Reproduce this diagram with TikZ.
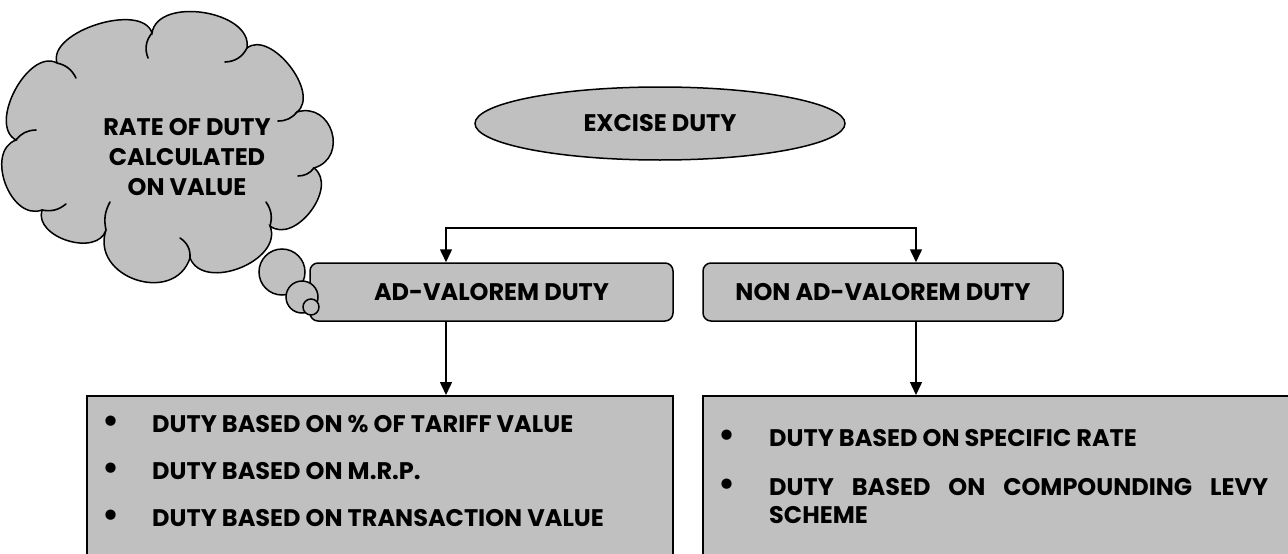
\documentclass[tikz,border=0pt]{standalone}
\usepackage{fontspec}
\setmainfont{Poppins}
\usetikzlibrary{shapes.geometric,arrows.meta,calc}
\definecolor{fillgray}{RGB}{192,192,192}
\begin{document}
\begin{tikzpicture}[x=1pt,y=-1pt,
  lbl/.style={font=\fontsize{24}{30}\selectfont\bfseries, inner sep=0pt},
  bul/.style={font=\fontsize{34}{30}\selectfont\bfseries, inner sep=0pt},
  shp/.style={draw=black, line width=1.5pt, fill=fillgray},
  inarc/.style={draw=black, line width=1.6pt, line cap=round},
  tip/.tip={Triangle[length=13pt,width=12pt]},
  conn/.style={line width=1.5pt, -tip},
  puff/.style={bend left=90, looseness=#1},
]
\useasboundingbox (0,0) rectangle (1288,554);

% top ellipse
\node[shp, ellipse, minimum width=370pt, minimum height=73pt, inner sep=0pt,
      font=\fontsize{24}{30}\selectfont\bfseries] (excise) at (660,123.5) {EXCISE DUTY};

% second level boxes
\node[shp, rounded corners=8pt, minimum width=363pt, minimum height=58pt, inner sep=0pt,
      font=\fontsize{24}{30}\selectfont\bfseries] (ad) at (491.5,292) {AD-VALOREM DUTY};
\node[shp, rounded corners=8pt, minimum width=360pt, minimum height=58pt, inner sep=0pt,
      font=\fontsize{24}{30}\selectfont\bfseries] (non) at (883,292) {NON AD-VALOREM DUTY};

% bottom boxes
\node[shp, anchor=north west, minimum width=586pt, minimum height=170pt, inner sep=0pt] (lbox) at (86,395) {};
\node[shp, anchor=north west, minimum width=590pt, minimum height=170pt, inner sep=0pt] (rbox) at (702,395) {};

% connectors
\coordinate (jl) at (446,228);
\coordinate (jr) at (916,228);
\draw[line width=1.5pt, tip-tip] (jl |- ad.north) -- (jl) -- (jr) -- (jr |- non.north);
\draw[conn] (ad.south -| jl) -- (jl |- lbox.north);
\draw[conn] (non.south -| jr) -- (jr |- rbox.north);

% left list
\node[bul] (lb1) at (111,424) {•};
\node[lbl, anchor=west] (lt1) at (152,424) {DUTY BASED ON \% OF TARIFF VALUE};
\node[bul] (lb2) at (111,471) {•};
\node[lbl, anchor=west] (lt2) at (152,471) {DUTY BASED ON M.R.P.};
\node[bul] (lb3) at (111,518) {•};
\node[lbl, anchor=west] (lt3) at (152,518) {DUTY BASED ON TRANSACTION VALUE};

% right list
\node[bul] (rb1) at (727,438) {•};
\node[lbl, anchor=west] (rt1) at (769,438) {DUTY BASED ON SPECIFIC RATE};
\node[bul] (rb2) at (727,487) {•};
\node[lbl, anchor=west] (rt2) at (769,487) {\makebox[499pt][s]{DUTY BASED ON COMPOUNDING LEVY}};
\node[lbl, anchor=west] (rt3) at (769,515) {SCHEME};

% thought cloud
\coordinate (k1) at (152,33);
\coordinate (k2) at (247,48);
\coordinate (k3) at (297,112);
\coordinate (k4) at (314,168);
\coordinate (k5) at (270,226);
\coordinate (k6) at (190,258);
\coordinate (k7) at (106,230);
\coordinate (k8) at (42,210);
\coordinate (k9) at (16,140);
\coordinate (k10) at (57,63);
\path[shp] (k1) to[puff=1.0] (k2) to[puff=0.95] (k3) to[puff=1.6] (k4)
  to[puff=1.1] (k5) to[puff=1.1] (k6) to[puff=1.45] (k7) to[puff=1.1] (k8)
  to[puff=1.15] (k9) to[puff=0.95] (k10) to[puff=0.85] (k1) -- cycle;
% inner arcs of the cloud
\draw[inarc] (k1) to[bend right=30] (148,58);
\draw[inarc] (k2) to[bend left=30] (225,62);
\draw[inarc] (k3) to[bend left=25] (278,121);
\draw[inarc] (k4) to[bend left=25] (298,176);
\draw[inarc] (k5) to[bend right=25] (266,202);
\draw[inarc] (k6) to[bend right=30] (180,238);
\draw[inarc] (k7) to[bend left=20] (110,202);
\draw[inarc] (k8) to[bend right=25] (66,204);
\draw[inarc] (k9) to[bend left=25] (36,130);
\draw[inarc] (k10) to[bend left=25] (76,78);
\node[lbl, align=center] (cloudtext) at (187,157) {RATE OF DUTY\\CALCULATED\\ON VALUE};
\node[shp, circle, minimum size=46pt, inner sep=0pt] (b1) at (282,272) {};
\node[shp, circle, minimum size=32pt, inner sep=0pt] (b2) at (302,297) {};
\node[shp, circle, minimum size=16pt, inner sep=0pt] (b3) at (311,307) {};
\end{tikzpicture}
\end{document}
